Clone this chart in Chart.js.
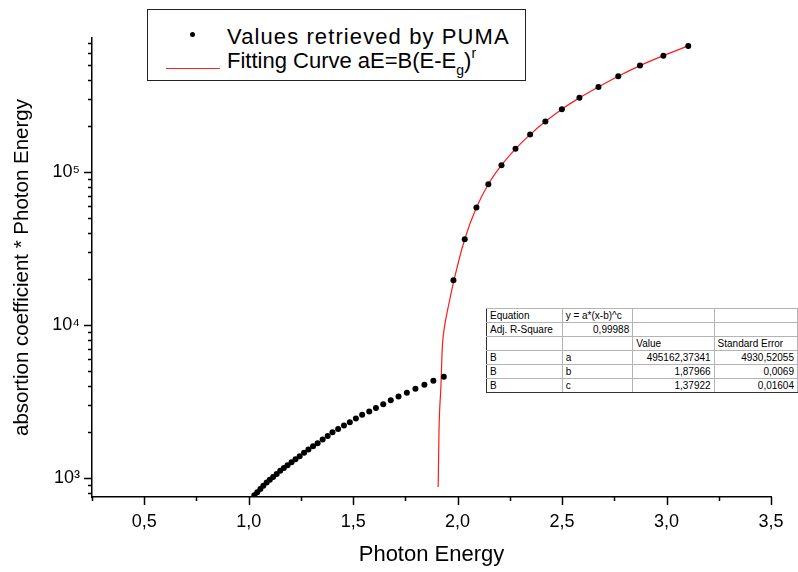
<!DOCTYPE html>
<html>
<head>
<meta charset="utf-8">
<script src="https://cdn.jsdelivr.net/npm/chart.js@4.4.0/dist/chart.umd.min.js"></script>
<style>
  body { margin: 0; background: #fff; }
  #wrap { position: relative; width: 798px; height: 572px; overflow: hidden;
          font-family: "Liberation Sans", Arial, sans-serif; color: #000; }
  #legend { position: absolute; left: 147px; top: 9px; width: 377px; height: 70px;
            border: 1px solid #222; background: #fff; }
  #legend .txt { position: absolute; left: 79px; font-size: 22px; line-height: 1; white-space: nowrap; }
  #legend .dot { position: absolute; left: 42px; top: 22px; width: 5px; height: 5px;
                 border-radius: 50%; background: #000; }
  #legend .red { position: absolute; left: 18px; top: 58px; width: 54px; height: 1px; background: #ff2020; }
  #legend sub { font-size: 14px; vertical-align: -7px; line-height: 0; }
  #legend sup { font-size: 14px; vertical-align: 10px; line-height: 0; }
  #fit { position: absolute; left: 486px; top: 308px; border-collapse: collapse;
         table-layout: fixed; font-size: 10px; background: #fff; }
  #fit td { border: 1px solid #b4b4b4; height: 13px; padding: 0 3px; line-height: 13px;
            white-space: nowrap; overflow: hidden; }
  #fit td.r { text-align: right; }
  #fit tr td:first-child { border-left: 1px solid #333; }
  #fit tr:last-child td { border-bottom: 1px solid #333; }
</style>
</head>
<body>
<div id="wrap">
  <canvas id="canvas" width="798" height="572"></canvas>
  <div id="legend">
    <div class="dot"></div>
    <div class="txt" style="top:16px; letter-spacing:1.1px">Values retrieved by PUMA</div>
    <div class="red"></div>
    <div class="txt" style="top:40px">Fitting Curve aE=B(E-E<sub>g</sub>)<sup>r</sup></div>
  </div>
  <table id="fit"></table>
</div>
<script>
// data (photon energy in eV)
var pumaEnergy = [1.027, 1.041, 1.056, 1.070, 1.086, 1.101, 1.117, 1.134, 1.151, 1.168,
  1.186, 1.205, 1.224, 1.244, 1.265, 1.286, 1.308, 1.330, 1.354, 1.378,
  1.401, 1.428, 1.456, 1.484, 1.513, 1.543, 1.577, 1.609, 1.644, 1.680,
  1.717, 1.757, 1.798, 1.841, 1.884, 1.934,
  1.980, 2.034, 2.090, 2.147, 2.210, 2.277, 2.347, 2.420, 2.499, 2.583,
  2.674, 2.769, 2.873, 2.985, 3.104];
var pumaValue = [771, 807, 847, 887, 933, 971, 1014, 1062, 1112, 1161,
  1211, 1267, 1325, 1387, 1459, 1531, 1607, 1687, 1782, 1879,
  1990, 2089, 2198, 2312, 2443, 2583, 2711, 2865, 3028, 3216,
  3398, 3606, 3828, 4066, 4318, 4585,
  19600, 36300, 58450, 83100, 110600, 141400, 175300, 213200, 257000, 304600,
  359000, 422000, 495000, 575000, 666000];

var fitEnergy = [1.907, 1.911, 1.920, 1.927, 1.935, 1.959, 1.983, 2.034, 2.090, 2.147,
  2.210, 2.277, 2.347, 2.420, 2.499, 2.583, 2.674, 2.769, 2.873, 2.985, 3.104];
var fitValue = [873, 2060, 3950, 7210, 9270, 13900, 19700, 36300, 58450, 83100,
  110600, 141400, 175300, 213200, 257000, 304600, 359000, 422000, 495000, 575000, 666000];

var xTicks = [0.25, 0.5, 0.75, 1.0, 1.25, 1.5, 1.75, 2.0, 2.25, 2.5, 2.75, 3.0, 3.25, 3.5];
var xMajor = [0.5, 1.0, 1.5, 2.0, 2.5, 3.0, 3.5];
var xMajorLabels = ['0,5', '1,0', '1,5', '2,0', '2,5', '3,0', '3,5'];
var yTicks = [800, 900, 1000, 2000, 3000, 4000, 5000, 6000, 7000, 8000, 9000, 10000,
  20000, 30000, 40000, 50000, 60000, 70000, 80000, 90000, 100000,
  200000, 300000, 400000, 500000, 600000, 700000];
var yMajor = [1000, 10000, 100000];
var yMajorLabels = ['10³', '10⁴', '10⁵'];

var tableRows = [
  ['Equation', 'y = a*(x-b)^c', '', ''],
  ['Adj. R-Square', '0,99988', '', ''],
  ['', '', 'Value', 'Standard Error'],
  ['B', 'a', '495162,37341', '4930,52055'],
  ['B', 'b', '1,87966', '0,0069'],
  ['B', 'c', '1,37922', '0,01604']
];
var colWidths = [76, 71, 82, 84];

function buildTable() {
  var t = document.getElementById('fit');
  var cg = document.createElement('colgroup');
  colWidths.forEach(function(w) {
    var c = document.createElement('col');
    c.style.width = w + 'px';
    cg.appendChild(c);
  });
  t.appendChild(cg);
  tableRows.forEach(function(row, ri) {
    var tr = document.createElement('tr');
    row.forEach(function(cell, ci) {
      var td = document.createElement('td');
      td.textContent = cell;
      var left = ci === 0 || (ri === 0) || (ri === 2) || (ci === 1 && ri > 2);
      if (!left) td.className = 'r';
      tr.appendChild(td);
    });
    t.appendChild(tr);
  });
}

var tickMarks = {
  id: 'tickMarks',
  afterDraw: function(chart) {
    var ctx = chart.ctx;
    var xs = chart.scales.x, ys = chart.scales.y;
    ctx.save();
    ctx.strokeStyle = '#000';
    ctx.lineWidth = 1.5;
    ctx.beginPath();
    xTicks.forEach(function(v) {
      var px = Math.round(xs.getPixelForValue(v)) + 0.5;
      var len = xMajor.indexOf(v) >= 0 ? 8 : 4;
      ctx.moveTo(px, xs.top);
      ctx.lineTo(px, xs.top + len);
    });
    yTicks.forEach(function(v) {
      var py = Math.round(ys.getPixelForValue(v)) + 0.5;
      var len = yMajor.indexOf(v) >= 0 ? 8 : 4;
      ctx.moveTo(ys.right, py);
      ctx.lineTo(ys.right - len, py);
    });
    ctx.stroke();
    ctx.restore();
  }
};

function init() {
  buildTable();
  var puma = [], fit = [];
  for (var i = 0; i < pumaEnergy.length; i++) puma.push({x: pumaEnergy[i], y: pumaValue[i]});
  for (var j = 0; j < fitEnergy.length; j++) fit.push({x: fitEnergy[j], y: fitValue[j]});

  var ctx = document.getElementById('canvas').getContext('2d');
  window.myChart = new Chart(ctx, {
    type: 'scatter',
    data: {
      datasets: [{
        label: 'Values retrieved by PUMA',
        data: puma,
        showLine: false,
        pointRadius: 3,
        pointBorderWidth: 0,
        backgroundColor: '#000',
        borderColor: '#000'
      }, {
        label: 'Fitting Curve',
        data: fit,
        showLine: true,
        pointRadius: 0,
        borderColor: '#ff1a1a',
        borderWidth: 1.2,
        cubicInterpolationMode: 'monotone'
      }]
    },
    options: {
      responsive: false,
      animation: false,
      layout: { padding: { top: 38, right: 27, left: 0, bottom: 0 } },
      plugins: { legend: { display: false }, tooltip: { enabled: false } },
      scales: {
        x: {
          type: 'linear',
          position: 'bottom',
          min: 0.25,
          max: 3.5,
          afterBuildTicks: function(s) {
            s.ticks = xTicks.map(function(v) { return {value: v}; });
          },
          afterFit: function(s) { s.height = 75; },
          grid: { drawOnChartArea: false, drawTicks: true, tickLength: 8, color: 'rgba(0,0,0,0)' },
          border: { display: true, color: '#000', width: 1.5 },
          ticks: {
            autoSkip: false, maxRotation: 0, padding: 6, color: '#000',
            font: { family: '"Liberation Sans", Arial, sans-serif', size: 18 },
            callback: function(v) {
              var k = xMajor.indexOf(v);
              return k >= 0 ? xMajorLabels[k] : '';
            }
          },
          title: {
            display: true, text: 'Photon Energy', color: '#000',
            font: { family: '"Liberation Sans", Arial, sans-serif', size: 22 },
            padding: { top: 0, bottom: 4 }
          }
        },
        y: {
          type: 'logarithmic',
          position: 'left',
          min: 750,
          max: 750000,
          afterBuildTicks: function(s) {
            s.ticks = yTicks.map(function(v) { return {value: v}; });
          },
          afterFit: function(s) { s.width = 92; },
          grid: { drawOnChartArea: false, drawTicks: true, tickLength: 8, color: 'rgba(0,0,0,0)' },
          border: { display: true, color: '#000', width: 1.5 },
          ticks: {
            autoSkip: false, padding: 4, color: '#000',
            font: { family: '"Liberation Sans", Arial, sans-serif', size: 18 },
            callback: function(v) {
              var k = yMajor.indexOf(v);
              return k >= 0 ? yMajorLabels[k] : '';
            }
          },
          title: {
            display: true, text: 'absortion coefficient * Photon Energy', color: '#000',
            font: { family: '"Liberation Sans", Arial, sans-serif', size: 20.5 },
            padding: { top: 10, bottom: 0 }
          }
        }
      }
    },
    plugins: [tickMarks]
  });
}

window.onload = init;
</script>
</body>
</html>
